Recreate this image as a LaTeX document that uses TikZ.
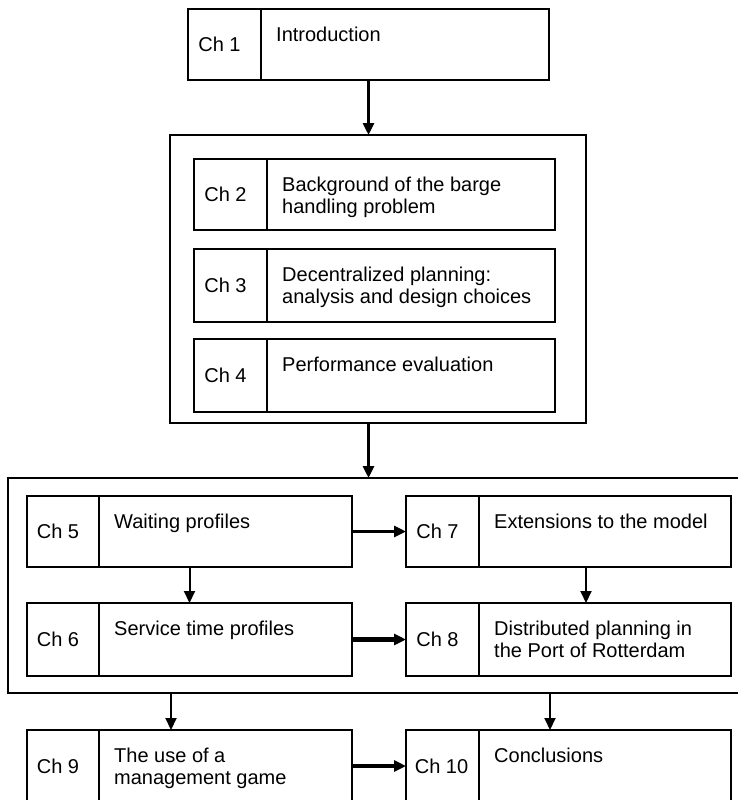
\documentclass[tikz,border=0pt]{standalone}
\usepackage{fontspec}
\setmainfont{Liberation Sans}
\usetikzlibrary{arrows.meta}

% \chbox{name}{x1}{y1}{x2}{y2}{x of divider}{chapter number}{title}{number offset}
\newcommand\chbox[9]{%
  \node[box, minimum width={(#4-#2)*1pt}, minimum height={(#5-#3)*1pt}]
    (#1) at ({(#2+#4)/2},{(#3+#5)/2}) {};
  \draw[boxline] (#6,#3) -- (#6,#5);
  \node[chlabel] (#1-num) at ({(#2+#6)/2+#9},{(#3+#5)/2}) {#7};
  \node[chtext] (#1-txt) at (#6+15,#3+18) {#8};
}

\begin{document}
\begin{tikzpicture}[x=1pt,y=-1pt,
  box/.style={draw, line width=1.2pt, inner sep=0pt, outer sep=0pt, rectangle},
  boxline/.style={line width=1.2pt},
  chlabel/.style={font=\fontsize{20}{22}\selectfont, inner sep=0pt},
  chtext/.style={font=\fontsize{20}{22}\selectfont, inner sep=0pt,
    anchor=north west, align=left},
  flow/.style={-{Triangle[length=12pt,width=11pt]}, line width=2pt},
  flowmid/.style={flow, line width=3pt},
  flowbold/.style={flow, line width=4.5pt}
]
\useasboundingbox (0,0) rectangle (738,800);
\clip (0,0) rectangle (738,800);

% outer grouping frames
\node[box, minimum width=416pt, minimum height=288pt] (g1) at (378,279) {};
\node[box, minimum width=737pt, minimum height=215pt] (g2) at (376.5,585.5) {};

% chapters
\chbox{c1}{188}{9}{549}{80}{261}{Ch 1}{Introduction}{-5}
\chbox{c2}{194}{159}{555}{230}{267}{Ch 2}{Background of the barge\\handling problem}{-5}
\chbox{c3}{194}{249}{555}{322}{267}{Ch 3}{Decentralized planning:\\analysis and design choices}{-5}
\chbox{c4}{194}{339}{555}{412}{267}{Ch 4}{Performance evaluation}{-5}
\chbox{c5}{27}{496}{352}{567}{99}{Ch 5}{Waiting profiles}{-5}
\chbox{c6}{27}{603}{352}{676}{99}{Ch 6}{Service time profiles}{-5}
\chbox{c7}{406}{496}{731}{567}{479}{Ch 7}{Extensions to the model}{-5}
\chbox{c8}{406}{603}{731}{676}{479}{Ch 8}{Distributed planning in\\the Port of Rotterdam}{-5}
\chbox{c9}{27}{730}{352}{802}{99}{Ch 9}{The use of a\\management game}{-5}
\chbox{c10}{406}{730}{731}{802}{479}{Ch 10}{Conclusions}{-1}

% attachment points for off-centre connectors
\coordinate (a7) at ([xshift=17.5pt]c7.south);
\coordinate (a8) at ([xshift=17.5pt]c8.north);
\coordinate (a9) at ([xshift=-18.5pt]c9.north);
\coordinate (a10) at ([xshift=-18.5pt]c10.north);

% connectors
\draw[flowmid] (c1.south) -- (c1.south |- g1.north);
\draw[flowmid] (g1.south -| c1.south) -- (g2.north -| c1.south);
\draw[flowmid] (c5) -- (c7);
\draw[flow] (c5) -- (c6);
\draw[flow] (a7) -- (a8);
\draw[flowbold] (c6) -- (c8);
\draw[flow] (a9 |- g2.south) -- (a9);
\draw[flow] (a10 |- g2.south) -- (a10);
\draw[flowbold] (c9) -- (c10);
\end{tikzpicture}
\end{document}
